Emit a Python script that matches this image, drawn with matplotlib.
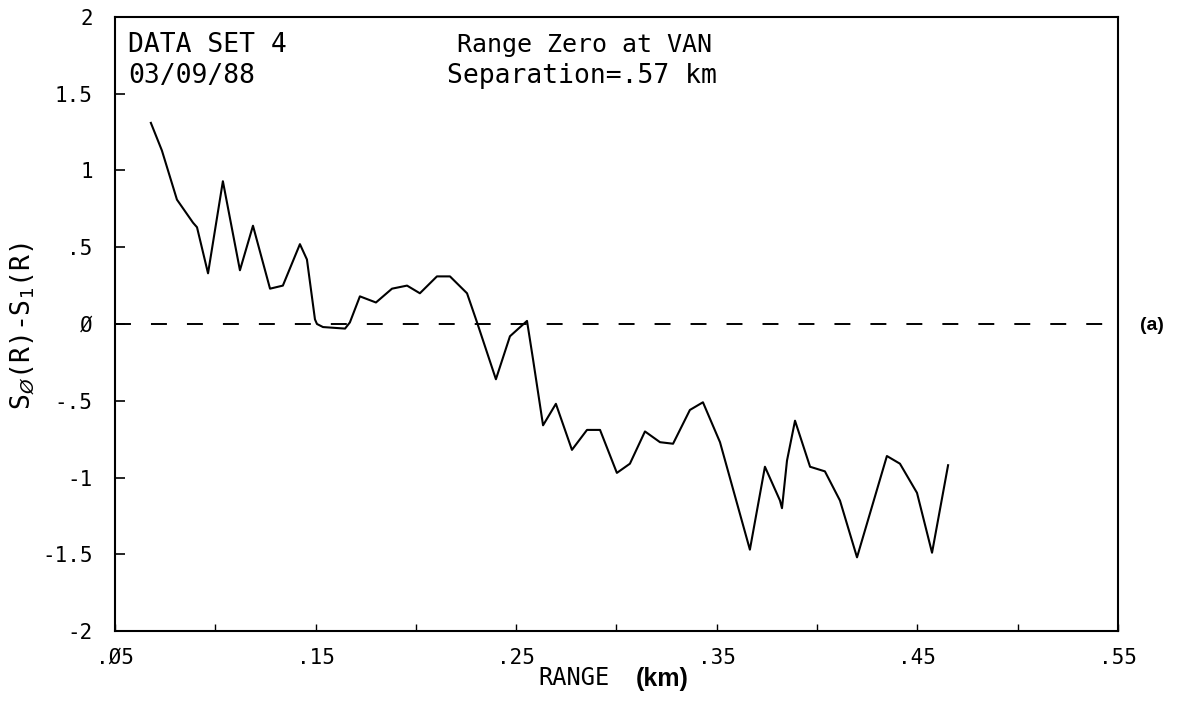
import matplotlib
matplotlib.use("Agg")
import numpy as np
from matplotlib import pyplot as plt

# range (km) and S0(R)-S1(R)
range_km = [0.0679, 0.0734, 0.0809, 0.0889, 0.0909, 0.0964, 0.1038, 0.1123,
            0.1188, 0.1273, 0.1337, 0.1422, 0.1457, 0.1497, 0.1507, 0.1537,
            0.1647, 0.1671, 0.1721, 0.1801, 0.1881, 0.1956, 0.2020, 0.2105,
            0.2170, 0.2255, 0.2305, 0.2399, 0.2469, 0.2554, 0.2584, 0.2634,
            0.2698, 0.2778, 0.2853, 0.2918, 0.3002, 0.3067, 0.3142, 0.3217,
            0.3282, 0.3366, 0.3431, 0.3516, 0.3665, 0.3740, 0.3815, 0.3825,
            0.3850, 0.3890, 0.3965, 0.4039, 0.4114, 0.4199, 0.4348, 0.4413,
            0.4498, 0.4573, 0.4653]
s_diff = [1.31, 1.13, 0.81, 0.66, 0.63, 0.33, 0.93, 0.35,
          0.64, 0.23, 0.25, 0.52, 0.42, 0.03, 0.00, -0.02,
          -0.03, 0.01, 0.18, 0.14, 0.23, 0.25, 0.20, 0.31,
          0.31, 0.20, 0.01, -0.36, -0.08, 0.02, -0.23, -0.66,
          -0.52, -0.82, -0.69, -0.69, -0.97, -0.91, -0.70, -0.77,
          -0.78, -0.56, -0.51, -0.77, -1.47, -0.93, -1.15, -1.20,
          -0.89, -0.63, -0.93, -0.96, -1.15, -1.52, -0.86, -0.91,
          -1.10, -1.49, -0.92]

x_ticks = [0.05, 0.10, 0.15, 0.20, 0.25, 0.30, 0.35, 0.40, 0.45, 0.50, 0.55]
x_labels = ['.\u00d85', '', '.15', '', '.25', '', '.35', '', '.45', '', '.55']
y_ticks = [-2, -1.5, -1, -0.5, 0, 0.5, 1, 1.5, 2]
y_labels = ['-2', '-1.5', '-1', '-.5', '\u00d8', '.5', '1', '1.5', '2']


def main():
    mono = 'DejaVu Sans Mono'
    fig = plt.figure(figsize=(11.9, 7.06), dpi=100)
    ax = fig.add_axes([0.0966, 0.1062, 0.8429, 0.8698])

    ax.plot(range_km, s_diff, color='black', linewidth=1.5)
    ax.axhline(0, color='black', linewidth=1.4, dashes=(8.2, 10.3))

    ax.set_xlim(0.05, 0.55)
    ax.set_ylim(-2, 2)
    ax.set_xticks(x_ticks)
    ax.set_xticklabels(x_labels, fontfamily=mono, fontsize=15)
    ax.set_yticks(y_ticks)
    ax.set_yticklabels(y_labels, fontfamily=mono, fontsize=15)
    ax.tick_params(axis='x', direction='in', length=5, width=1, pad=12)
    ax.tick_params(axis='y', direction='in', length=7, width=1.2, pad=16)
    for s in ax.spines.values():
        s.set_linewidth(1.5)

    fig.text(23 / 1190, 0.5385, r'S$_{\O}$(R)-S$_1$(R)', rotation=90,
             ha='center', va='center', fontfamily=mono, fontsize=19)

    fig.text(610 / 1190, 1 - 685 / 706, 'RANGE', ha='right', va='baseline',
             fontfamily=mono, fontsize=17)
    fig.text(636 / 1190, 1 - 679 / 706, '(km)', ha='left', va='center',
             fontfamily='Liberation Sans', fontsize=18, fontweight='bold')

    ax.text(0.013, 0.943, 'DATA SET 4', transform=ax.transAxes,
            ha='left', va='baseline', fontfamily=mono, fontsize=19)
    ax.text(0.013, 0.8925, '03/09/88', transform=ax.transAxes,
            ha='left', va='baseline', fontfamily=mono, fontsize=19)
    ax.text(0.341, 0.943, 'Range Zero at VAN', transform=ax.transAxes,
            ha='left', va='baseline', fontfamily=mono, fontsize=18)
    ax.text(0.331, 0.8925, 'Separation=.57 km', transform=ax.transAxes,
            ha='left', va='baseline', fontfamily=mono, fontsize=19)

    fig.text(1152 / 1190, 1 - 325 / 706, '(a)', ha='center', va='center',
             fontfamily='Liberation Sans', fontsize=14, fontweight='bold')

    fig.savefig('out.png', dpi=100)


if __name__ == '__main__':
    main()
